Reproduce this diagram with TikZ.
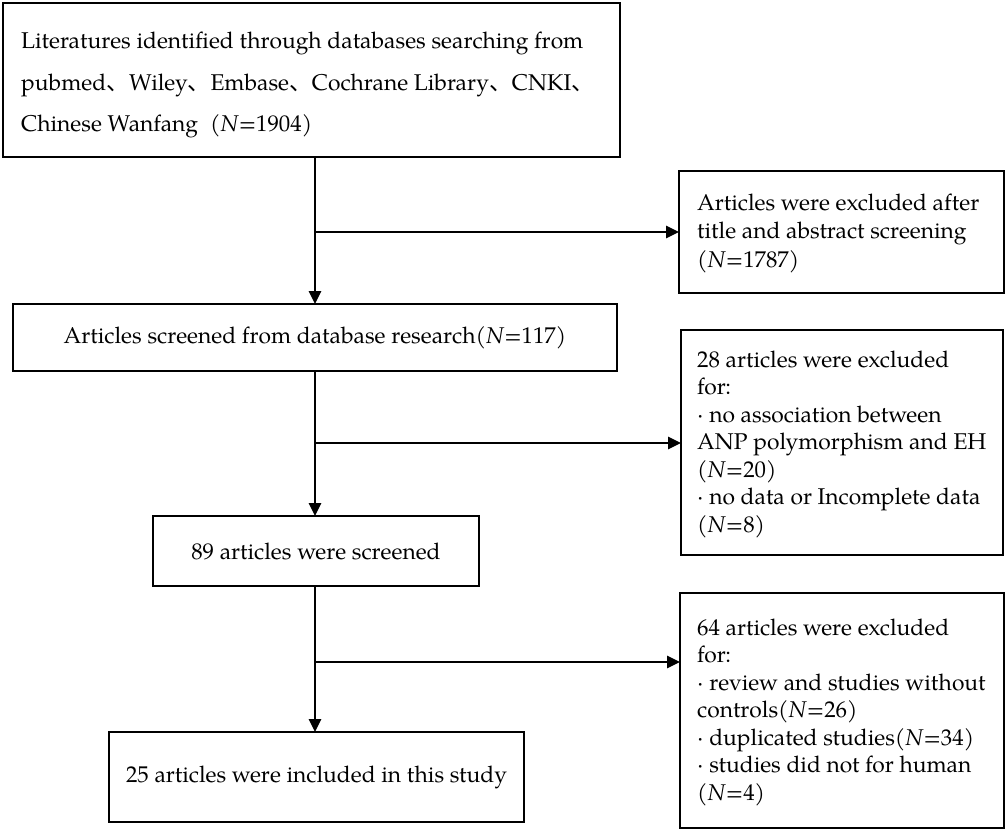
\documentclass[tikz,border=0pt]{standalone}
\usepackage{fontspec}
\setmainfont{texgyrepagella}[Extension=.otf, UprightFont=*-regular, ItalicFont=*-italic, BoldFont=*-bold, BoldItalicFont=*-bolditalic]
\newfontfamily\cjkfont{Noto Sans CJK SC}
\usetikzlibrary{arrows.meta}
\newcommand{\dunhao}{{\cjkfont 、}}
\begin{document}
\begin{tikzpicture}[x=1pt,y=-1pt,
  font=\fontsize{22.8}{27.5}\selectfont,
  box/.style={draw, line width=2pt, inner sep=0pt, outer sep=0pt, anchor=north west},
  txt/.style={align=left, inner sep=0pt, anchor=west},
  conn/.style={line width=1.5pt, -{Triangle[length=13pt,width=12.5pt]}}]
\useasboundingbox (0,0) rectangle (1006,831);
\coordinate (spine) at (315,0);
% main boxes
\node[box, minimum width=617pt, minimum height=154pt] (B1) at (3,3) {};
\node[txt, font=\fontsize{22.8}{41.5}\selectfont] (B1t) at (21,85)
  {Literatures identified through databases searching from\\
   pubmed\dunhao Wiley\dunhao Embase\dunhao Cochrane Library\dunhao CNKI\dunhao\\
   Chinese Wanfang\hspace{12pt}(\textit{N}=1904)};
\node[box, minimum width=604pt, minimum height=67pt] (B2) at (13,304)
  {Articles screened from database research(\textit{N}=117)};
\node[box, minimum width=326pt, minimum height=70pt] (B3) at (153,516)
  {89 articles were screened};
\node[box, minimum width=415pt, minimum height=90pt] (B4) at (109,732)
  {25 articles were included in this study};
% exclusion boxes
\node[box, minimum width=325pt, minimum height=122pt] (E1) at (679,171) {};
\node[txt, font=\fontsize{22.8}{28.5}\selectfont] (E1t) at (697,233)
  {Articles were excluded after\\
   title and abstract screening\\
   (\textit{N}=1787)};
\node[box, minimum width=322pt, minimum height=225pt] (E2) at (681,330) {};
\node[txt] (E2t) at (697,444)
  {28 articles were excluded\\
   for:\\
   · no association between\\
   ANP polymorphism and EH\\
   (\textit{N}=20)\\
   · no data or Incomplete data\\
   (\textit{N}=8)};
\node[box, minimum width=324pt, minimum height=235pt] (E3) at (680,593) {};
\node[txt] (E3t) at (697,712)
  {64 articles were excluded\\
   for:\\
   · review and studies without\\
   controls(\textit{N}=26)\\
   · duplicated studies(\textit{N}=34)\\
   · studies did not for human\\
   (\textit{N}=4)};
% connectors
\coordinate (j1) at (315,232);
\coordinate (j2) at (315,443);
\coordinate (j3) at (315,662);
\draw[conn] (B1.south -| spine) -- (B2.north -| spine);
\draw[conn] (B2.south -| spine) -- (B3.north -| spine);
\draw[conn] (B3.south -| spine) -- (B4.north -| spine);
\draw[conn] (j1) -- (j1 -| E1.west);
\draw[conn] (j2) -- (j2 -| E2.west);
\draw[conn] (j3) -- (j3 -| E3.west);
\end{tikzpicture}
\end{document}
